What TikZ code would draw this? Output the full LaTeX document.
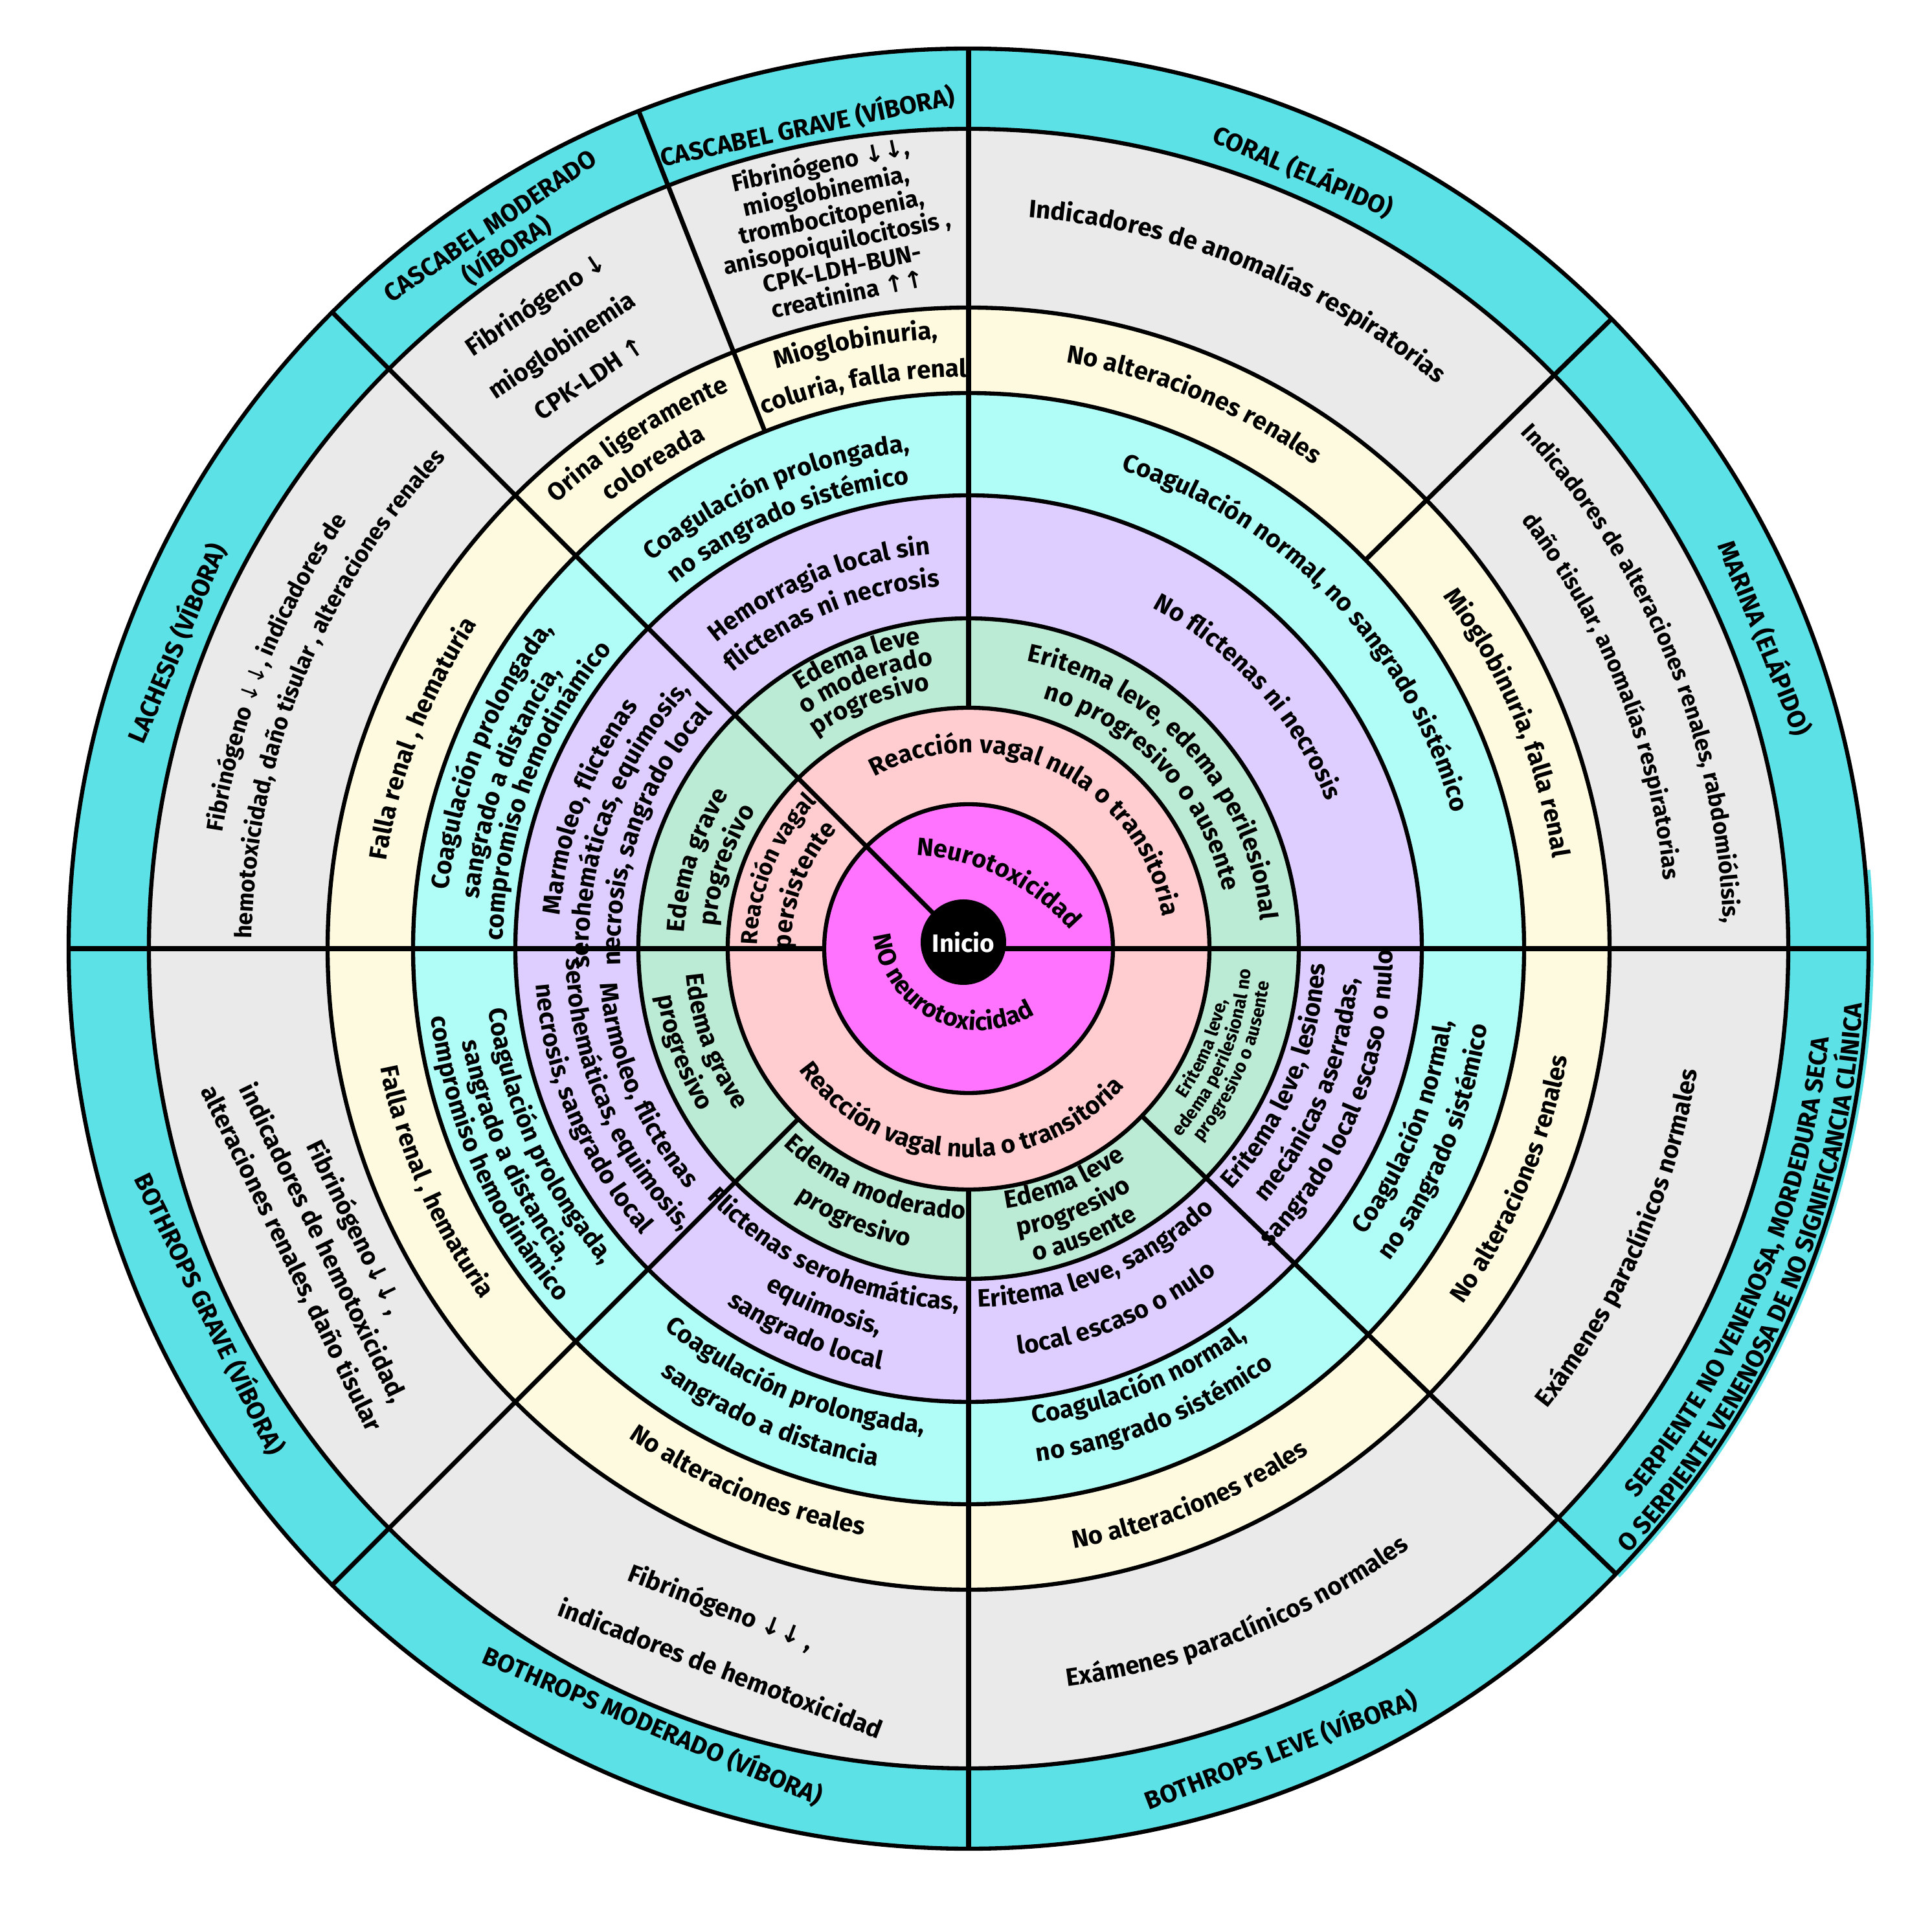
\documentclass[tikz,border=0pt]{standalone}
\usepackage{fontspec}
\setmainfont{Fira Sans}
\newfontfamily\arrowfont{DejaVu Sans}
\usepackage{tikz}
\usetikzlibrary{decorations.text}
\definecolor{outercyan}{HTML}{5CE1E6}
\definecolor{labgray}{HTML}{EAEAEA}
\definecolor{renalyellow}{HTML}{FEFADF}
\definecolor{coagcyan}{HTML}{B0FCF7}
\definecolor{lesionpurple}{HTML}{DDCEFF}
\definecolor{edemagreen}{HTML}{BBEBD5}
\definecolor{vagalpink}{HTML}{FFCCD0}
\definecolor{neuromagenta}{HTML}{FF73FF}

\newcommand\lblfont{\rmfamily\bfseries\fontsize{11}{14}\selectfont}
\newcommand\narrowfont{\rmfamily\bfseries\fontsize{10.2}{13}\selectfont}
\newcommand\tinyfont{\rmfamily\bfseries\fontsize{8}{9.5}\selectfont}
\newcommand\headfont{\rmfamily\bfseries\fontsize{11}{13}\selectfont}
\newcommand\dnarr{{\arrowfont ↓}}
\newcommand\uparr{{\arrowfont ↑}}
% text on an arc round the centre: radius, middle angle, text
\newcommand\cwarc[4][\lblfont]{%
  \path[decorate,decoration={text along path,text align=center,text={|#1|#4}}]
    ({#3+80}:#2) arc[start angle={#3+80},end angle={#3-80},radius=#2];}
\newcommand\ccwarc[4][\lblfont]{%
  \path[decorate,decoration={text along path,text align=center,text={|#1|#4}}]
    ({#3-80}:#2) arc[start angle={#3-80},end angle={#3+80},radius=#2];}

\begin{document}
\begin{tikzpicture}[
    ring/.style={draw=black, line width=1.8pt},
    spoke/.style={draw=black, line width=2pt},
    txt/.style={font=\lblfont, align=center, inner sep=0pt},
    head/.style={font=\headfont, align=center, inner sep=0pt}
]
\useasboundingbox (-14.96,-15.14) rectangle (14.88,14.65);

% Rings, outside in
\fill[outercyan] (0,0) -- (316:13.98) arc[start angle=316,end angle=365,radius=13.98] -- cycle;
\foreach \r/\c in {13.90/outercyan, 12.66/labgray, 9.90/renalyellow, 8.58/coagcyan,
                   7.00/lesionpurple, 5.10/edemagreen, 3.72/vagalpink, 2.23/neuromagenta}
  \filldraw[ring, fill=\c] (0,0) circle[radius=\r];

% Spokes
\foreach \a/\r in {0/0, 44.4/8.58, 90/3.72, 111.5/8.58, 135/0, 180/2.23, 225/3.72, 270/3.72, 316/3.72}
  \draw[spoke] (\a:\r) -- (\a:13.90);

% Centre
\node[circle, fill=black, minimum size=1.32cm, inner sep=0pt, text=white, font=\lblfont] (inicio) at (-0.08,0.10) {Inicio};

% Neurotoxicity
\begin{scope}[shift={(-1.00,-1.97)}]
  \cwarc{3.42}{64}{Neurotoxicidad}
\end{scope}
\begin{scope}[shift={(0.165,0.38)}]
  \ccwarc{1.64}{244}{NO neurotoxicidad}
\end{scope}

% Vagal reaction
\cwarc{3.03}{64}{Reacción vagal nula o transitoria}
\cwarc[\narrowfont]{3.26}{157.5}{Reacción vagal}
\cwarc{2.74}{159}{persistente}
\ccwarc{3.22}{267}{Reacción vagal nula o transitoria}

% Edema
\cwarc{4.53}{42}{Eritema leve, edema perilesional}
\cwarc{4.03}{43}{no progresivo o ausente}
\cwarc{4.76}{111}{Edema leve}
\cwarc{4.41}{111}{o moderado}
\cwarc{4.04}{112}{progresivo}
\cwarc{4.40}{162}{Edema grave}
\cwarc{3.92}{161}{progresivo}
\ccwarc{4.38}{200}{Edema grave}
\ccwarc{4.86}{200}{progresivo}
\ccwarc{4.17}{248}{Edema moderado}
\ccwarc{4.70}{247}{progresivo}
\ccwarc{4.05}{292.5}{Edema leve}
\ccwarc{4.50}{292}{progresivo}
\ccwarc{4.93}{292}{o ausente}
\ccwarc[\tinyfont]{4.07}{337}{Eritema leve,}
\ccwarc[\tinyfont]{4.37}{337}{edema perilesional no}
\ccwarc[\tinyfont]{4.67}{337}{progresivo o ausente}

% Local signs
\cwarc{6.12}{112.5}{Hemorragia local sin}
\cwarc{5.61}{112.5}{flictenas ni necrosis}
\cwarc{5.98}{42}{No flictenas ni necrosis}
\cwarc{6.33}{159.5}{Marmoleo, flictenas}
\cwarc{5.86}{160}{serohemáticas, equimosis,}
\cwarc{5.38}{160}{necrosis, sangrado local}
\ccwarc{5.72}{203}{Marmoleo, flictenas}
\ccwarc{6.22}{203}{serohemáticas, equimosis,}
\ccwarc{6.71}{203}{necrosis, sangrado local}
\ccwarc{5.58}{246}{Flictenas serohemáticas,}
\ccwarc{6.12}{248}{equimosis,}
\ccwarc{6.64}{247}{sangrado local}
\ccwarc{5.54}{292.4}{Eritema leve, sangrado}
\ccwarc{6.31}{292.2}{local escaso o nulo}
\ccwarc{5.51}{337.5}{Eritema leve, lesiones}
\ccwarc{6.03}{337.5}{mecánicas aserradas,}
\ccwarc{6.55}{337.5}{sangrado local escaso o nulo}

% Coagulation
\cwarc{7.73}{113}{Coagulación prolongada,}
\cwarc{7.23}{113}{no sangrado sistémico}
\cwarc{7.76}{44}{Coagulación normal, no sangrado sistémico}
\cwarc{8.08}{158}{Coagulación prolongada,}
\cwarc{7.60}{160}{sangrado a distancia,}
\cwarc{7.19}{159.5}{compromiso hemodinámico}
\ccwarc{7.47}{204}{Coagulación prolongada,}
\ccwarc{7.95}{204}{sangrado a distancia,}
\ccwarc{8.37}{204}{compromiso hemodinámico}
\ccwarc{7.52}{248}{Coagulación prolongada,}
\ccwarc{8.12}{247}{sangrado a distancia}
\ccwarc{7.40}{291.7}{Coagulación normal,}
\ccwarc{7.99}{291.9}{no sangrado sistémico}
\ccwarc{7.55}{337.8}{Coagulación normal,}
\ccwarc{8.10}{337.5}{no sangrado sistémico}

% Renal
\cwarc{9.37}{123}{Orina ligeramente}
\cwarc{8.85}{123}{coloreada}
\cwarc{9.43}{100.6}{Mioglobinuria,}
\cwarc{8.83}{100.6}{coluria, falla renal}
\cwarc{9.18}{67.5}{No alteraciones renales}
\cwarc{9.13}{22.7}{Mioglobinuria, falla renal}
\cwarc{9.09}{159}{Falla renal , hematuria}
\ccwarc{9.27}{203.6}{Falla renal , hematuria}
\ccwarc{9.20}{247.5}{No alteraciones reales}
\ccwarc{9.40}{292}{No alteraciones reales}
\ccwarc{9.40}{337}{No alteraciones renales}

% Laboratory
\cwarc{11.33}{67.8}{Indicadores de anomalías respiratorias}
\cwarc[\narrowfont]{11.66}{22.5}{Indicadores de alteraciones renales, rabdomiólisis,}
\cwarc[\narrowfont]{10.79}{21.7}{daño tisular, anomalías respiratorias}
\node[txt, rotate=34] (labmod1) at (123.9:11.97) {Fibrinógeno \dnarr};
\node[txt, rotate=34] (labmod2) at (124:11.22) {mioglobinemia};
\node[txt, rotate=34] (labmod3) at (123.6:10.58) {CPK-LDH \uparr};
\node[txt, rotate=12, font=\rmfamily\bfseries\fontsize{10.5}{11.6}\selectfont] (labgrave) at (100.6:11.32)
  {Fibrinógeno \dnarr\dnarr,\\mioglobinemia,\\trombocitopenia,\\anisopoiquilocitosis ,\\CPK-LDH-BUN-\\creatinina \uparr\uparr};
\cwarc[\narrowfont]{11.66}{158.3}{Fibrinógeno |\arrowfont|↓↓|\narrowfont|, indicadores de}
\cwarc[\narrowfont]{11.07}{158}{hemotoxicidad, daño tisular , alteraciones renales}
\node[txt, rotate=-64, font=\rmfamily\bfseries\fontsize{11}{15.5}\selectfont] (labbg) at (204.5:10.96)
  {Fibrinógeno\dnarr\dnarr\ ,\\indicadores de hemotoxicidad,\\alteraciones renales, daño tisular};
\node[txt, rotate=-21] (labbm1) at (249.4:10.88) {Fibrinógeno \dnarr\dnarr\ ,};
\node[txt, rotate=-21] (labbm2) at (251:11.75) {indicadores de hemotoxicidad};
\ccwarc{11.49}{292}{Exámenes paraclínicos normales}
\ccwarc{11.41}{336}{Exámenes paraclínicos normales}

% Snakes
\node[head, rotate=-23.3] (coral) at (66.7:13.08) {CORAL (ELÁPIDO)};
\node[head, rotate=-68] (marina) at (21.3:13.21) {MARINA (ELÁPIDO)};
\node[head, rotate=12] (cascgrave) at (101.1:12.95) {CASCABEL GRAVE (VÍBORA)};
\node[head, rotate=34] (cascmod) at (123.5:13.13) {CASCABEL MODERADO\\(VÍBORA)};
\node[head, rotate=67] (lachesis) at (158.9:13.12) {LACHESIS (VÍBORA)};
\node[head, rotate=-64] (bothgrave) at (205.7:13.00) {BOTHROPS GRAVE (VÍBORA)};
\node[head, rotate=-23] (bothmod) at (247.9:12.94) {BOTHROPS MODERADO (VÍBORA)};
\node[head, rotate=21] (bothleve) at (291.3:13.27) {BOTHROPS LEVE (VÍBORA)};
\ccwarc[\headfont]{13.36}{337.3}{SERPIENTE NO VENENOSA, MORDEDURA SECA}
\ccwarc[\headfont]{13.83}{337}{O SERPIENTE VENENOSA DE NO SIGNIFICANCIA CLÍNICA}

\end{tikzpicture}
\end{document}
